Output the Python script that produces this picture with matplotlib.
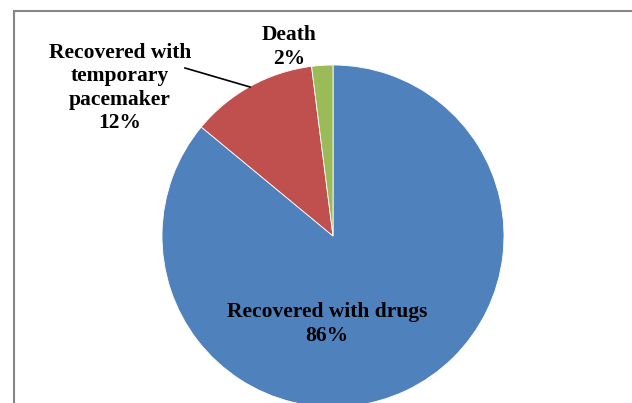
import matplotlib.pyplot as plt
from matplotlib.patches import Rectangle

# outcome shares (%)
outcomes = ['Recovered with drugs', 'Recovered with\ntemporary\npacemaker', 'Death']
shares = [86, 12, 2]
colors = ['#4F81BD', '#C0504D', '#9BBB59']

W, H = 632, 403
fig = plt.figure(figsize=(W / 100, H / 100), dpi=100)
ax = fig.add_axes([0, 0, 1, 1])

# pixel-like layout, y measured from top
def py(y):
    return H - y

cx, cy, r = 333, py(236), 171

ax.pie(shares, colors=colors, startangle=90, counterclock=False,
       center=(cx, cy), radius=r,
       wedgeprops=dict(linewidth=0.6, edgecolor='white'))
ax.set_xlim(0, W)
ax.set_ylim(0, H)
ax.set_aspect('equal', adjustable='box')
ax.axis('off')

# chart area border
ax.add_patch(Rectangle((14, -20), W, py(11) + 20, fill=False,
                       edgecolor='#868686', linewidth=1.5, clip_on=False))

font = dict(family='Liberation Serif', weight='bold', size=15.5,
            ha='center', va='center', linespacing=1.22, color='black')

labels = ['{}\n{}%'.format(o, s) for o, s in zip(outcomes, shares)]
ax.text(327, py(324), labels[0], **font)
ax.text(120, py(88), labels[1], **font)
ax.text(289, py(47), labels[2], **font)

# leader line for the pacemaker slice
ax.plot([185, 250], [py(68), py(87)], color='black', linewidth=1.2)

fig.savefig('out.png', dpi=100)
